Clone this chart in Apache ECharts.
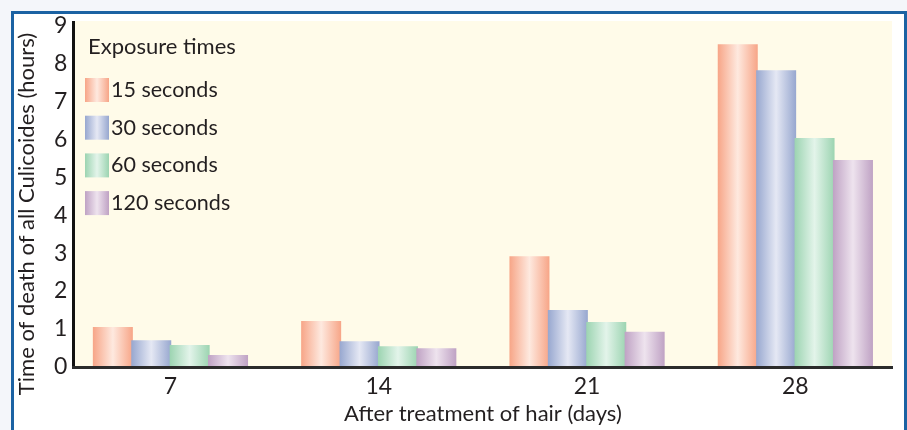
<!DOCTYPE html>
<html>
<head>
<meta charset="utf-8">
<script src="https://cdn.jsdelivr.net/npm/echarts@6/dist/echarts.min.js"></script>
<style>
html,body{margin:0;padding:0;background:#f4f6fa;}
#c{width:907px;height:430px;}
</style>
</head>
<body>
<div id="c"></div>
<script>
const days = ['7', '14', '21', '28'];
const seriesNames = ['15 seconds', '30 seconds', '60 seconds', '120 seconds'];
const s15 = [1.05, 1.21, 2.92, 8.52];
const s30 = [0.70, 0.67, 1.50, 7.83];
const s60 = [0.57, 0.54, 1.18, 6.04];
const s120 = [0.31, 0.49, 0.92, 5.46];
const yTicks = [0, 1, 2, 3, 4, 5, 6, 7, 8, 9];

const edgeColors = ['#f7a587', '#97a7cf', '#9cd4b1', '#bfa2c4'];
const centerColors = ['#fee9df', '#e5e8f4', '#e3f4ea', '#eee3ee'];
const allData = [s15, s30, s60, s120];

const FONT = 'Lato';
const TXT = '#231f20';

function grad(i) {
  return {
    type: 'linear', x: 0, y: 0, x2: 1, y2: 0,
    colorStops: [
      {offset: 0, color: edgeColors[i]},
      {offset: 0.5, color: centerColors[i]},
      {offset: 1, color: edgeColors[i]}
    ]
  };
}

const chart = echarts.init(document.getElementById('c'), null, {renderer: 'canvas'});
chart.setOption({
  backgroundColor: '#f4f6fa',
  animation: false,
  textStyle: {fontFamily: FONT, color: TXT},
  title: {
    text: 'Exposure times',
    left: 88, top: 36, padding: 0,
    textStyle: {fontFamily: FONT, fontSize: 22, fontWeight: 'normal', color: TXT}
  },
  legend: {
    orient: 'vertical',
    left: 85, top: 78, padding: 0,
    itemWidth: 24, itemHeight: 24, itemGap: 13.7,
    icon: 'rect',
    data: seriesNames,
    textStyle: {fontFamily: FONT, fontSize: 21.5, color: TXT, padding: [0, 0, 0, -3]}
  },
  graphic: [
    {type: 'rect', z: -20, shape: {x: 12.5, y: 12.5, width: 893, height: 440},
     style: {fill: '#ffffff', stroke: '#1b62a3', lineWidth: 3}},
    {type: 'rect', z: -19, shape: {x: 73, y: 21, width: 819, height: 346},
     style: {fill: '#fffbe9'}},
    {type: 'line', z: 50, shape: {x1: 73.5, y1: 21, x2: 73.5, y2: 369},
     style: {stroke: '#111111', lineWidth: 3}},
    {type: 'line', z: 50, shape: {x1: 72, y1: 367.5, x2: 893, y2: 367.5},
     style: {stroke: '#2b2b2b', lineWidth: 3}},
    {type: 'text', z: 50, x: 27, y: 214, rotation: Math.PI / 2,
     style: {text: 'Time of death of all Culicoides (hours)', fontFamily: FONT, fontSize: 22,
             fill: TXT, textAlign: 'center', textVerticalAlign: 'middle'}}
  ],
  grid: {left: 66.3, right: 7.5, top: 26, bottom: 63.3, containLabel: false},
  xAxis: {
    type: 'category',
    data: days,
    axisLine: {show: false},
    axisTick: {show: false},
    axisLabel: {fontFamily: FONT, fontSize: 23, color: TXT, margin: 8},
    name: 'After treatment of hair (days)',
    nameLocation: 'middle',
    nameGap: 34,
    nameTextStyle: {fontFamily: FONT, fontSize: 22, color: TXT}
  },
  yAxis: {
    type: 'value',
    min: yTicks[0], max: yTicks[yTicks.length - 1], interval: 1,
    offset: -7,
    axisLine: {show: false},
    axisTick: {show: false},
    splitLine: {show: false},
    axisLabel: {fontFamily: FONT, fontSize: 23, color: TXT, margin: 6}
  },
  series: allData.map((d, i) => ({
    name: seriesNames[i],
    type: 'bar',
    data: d,
    barWidth: 40,
    barGap: '-4%',
    itemStyle: {color: grad(i)}
  }))
});
</script>
</body>
</html>
